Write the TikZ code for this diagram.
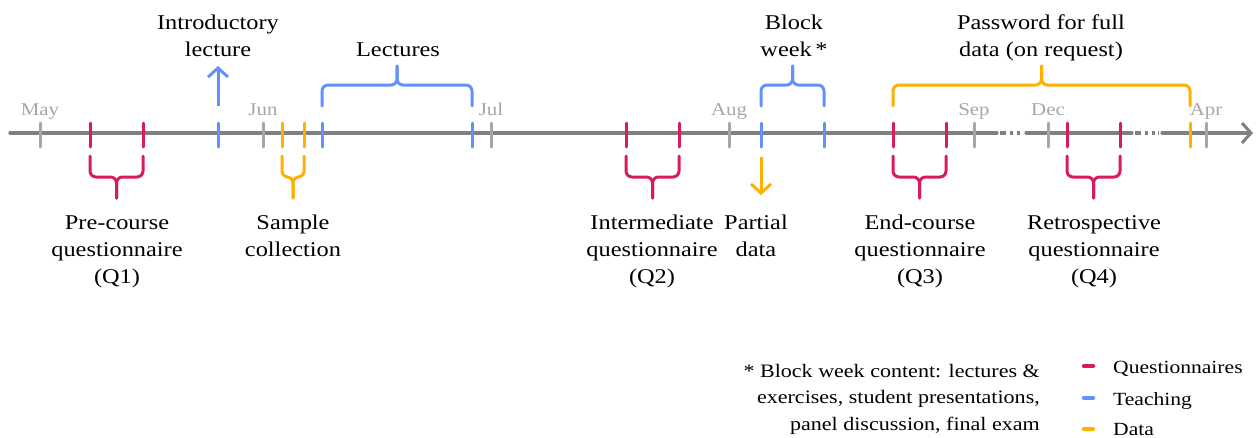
\documentclass[tikz,border=0pt]{standalone}
\usepackage{fontspec}
\setmainfont[FakeStretch=1.16]{Liberation Serif}
\usetikzlibrary{arrows.meta}
\definecolor{qred}{HTML}{D81B60}
\definecolor{tblue}{HTML}{648FFF}
\definecolor{dorange}{HTML}{FFB000}
\definecolor{axisgray}{HTML}{808080}
\definecolor{tickgray}{HTML}{A6A6A6}
\newcommand\dnbrace[3]{%
  \draw[brace,#3] (#1,156) -- (#1,177) -- ({(#1+#2)/2},177) -- ({(#1+#2)/2},198);
  \draw[brace,#3] (#2,156) -- (#2,177) -- ({(#1+#2)/2},177) -- ({(#1+#2)/2},198);}
\newcommand\upbrace[3]{%
  \draw[brace,#3] (#1,106) -- (#1,85) -- ({(#1+#2)/2},85) -- ({(#1+#2)/2},66);
  \draw[brace,#3] (#2,106) -- (#2,85) -- ({(#1+#2)/2},85) -- ({(#1+#2)/2},66);}
\begin{document}
\begin{tikzpicture}[x=1pt,y=-1pt,
  axisline/.style={draw=axisgray,line width=3.2pt,line cap=round},
  tickmark/.style={line width=3pt,line cap=round},
  brace/.style={line width=3pt,line cap=round,rounded corners=6pt},
  lbl/.style={font=\fontsize{21}{27}\selectfont,align=center,inner sep=0pt,anchor=base},
  month/.style={font=\fontsize{18}{20}\selectfont,text=tickgray,inner sep=0pt,anchor=base},
  legline/.style={line width=4.5pt,line cap=round},
  legtext/.style={font=\fontsize{18.6}{22}\selectfont,inner sep=0pt,anchor=base west},
  barb/.style={-{Straight Barb[length=9pt,width=20pt,line width=3pt]}}]
\useasboundingbox (0,0) rectangle (1256,437);
% axis
\draw[axisline] (10,133) -- (997,133);
\draw[axisline,line cap=butt,dash pattern=on 6pt off 4pt on 3pt off 4pt on 3pt off 3pt] (1000,133) -- (1023,133);
\draw[axisline] (1026,133) -- (1132,133);
\draw[axisline,line cap=butt,dash pattern=on 6pt off 4pt on 3pt off 4pt on 3pt off 3pt] (1135,133) -- (1159,133);
\draw[axisline,barb] (1162,133) -- (1253,133);
% month ticks
\foreach \x/\m/\n in {40/May/may,263/Jun/jun,491/Jul/jul,729/Aug/aug,974/Sep/sep,1048/Dec/dec,1206/Apr/apr}{
  \draw[tickmark,tickgray] (\x,123) -- (\x,147);
  \node[month] (\n) at (\x,115) {\m};
}
% questionnaire ticks
\foreach \x in {90,143,626,679,893,946,1067,1120}{\draw[tickmark,qred] (\x,123) -- (\x,147);}
% teaching ticks
\foreach \x in {218,322,472,761,824}{\draw[tickmark,tblue] (\x,123) -- (\x,147);}
% data ticks
\foreach \x in {282,304,1190}{\draw[tickmark,dorange] (\x,123) -- (\x,147);}
% braces
\dnbrace{90}{143}{qred}
\dnbrace{626}{679}{qred}
\dnbrace{893}{946}{qred}
\dnbrace{1067}{1120}{qred}
\dnbrace{282}{304}{dorange}
\upbrace{322}{472}{tblue}
\upbrace{761}{824}{tblue}
\upbrace{893}{1190}{dorange}
% arrows
\draw[tblue,line width=3pt,barb] (218,106) -- (218,66);
\draw[dorange,line width=3pt,barb] (761,157) -- (761,195);
% labels (anchor base = baseline of last line)
\node[lbl] (intro) at (218,56) {Introductory\\lecture};
\node[lbl] (lect) at (398,56) {Lectures};
\node[lbl] (block) at (794,56) {Block\\week\,*};
\node[lbl] (pw) at (1041,56) {Password for full\\data (on request)};
\node[lbl] (q1) at (117,283) {Pre-course\\questionnaire\\(Q1)};
\node[lbl] (sample) at (293,256) {Sample\\collection};
\node[lbl] (q2) at (652,283) {Intermediate\\questionnaire\\(Q2)};
\node[lbl] (partial) at (756,256) {Partial\\data};
\node[lbl] (q3) at (920,283) {End-course\\questionnaire\\(Q3)};
\node[lbl] (q4) at (1094,283) {Retrospective\\questionnaire\\(Q4)};
% footnote
\node[font=\fontsize{19}{26.5}\selectfont,align=right,inner sep=0pt,anchor=base east] (foot) at (1040,430)
  {* Block week content: lectures \&\\exercises, student presentations,\\panel discussion, final exam};
% legend
\draw[legline,qred] (1084,366) -- (1093,366);
\draw[legline,tblue] (1084,398) -- (1093,398);
\draw[legline,dorange] (1084,429) -- (1093,429);
\node[legtext] (lq) at (1113,373) {Questionnaires};
\node[legtext] (lt) at (1113,405) {Teaching};
\node[legtext] (ld) at (1113,435) {Data};
\end{tikzpicture}
\end{document}
